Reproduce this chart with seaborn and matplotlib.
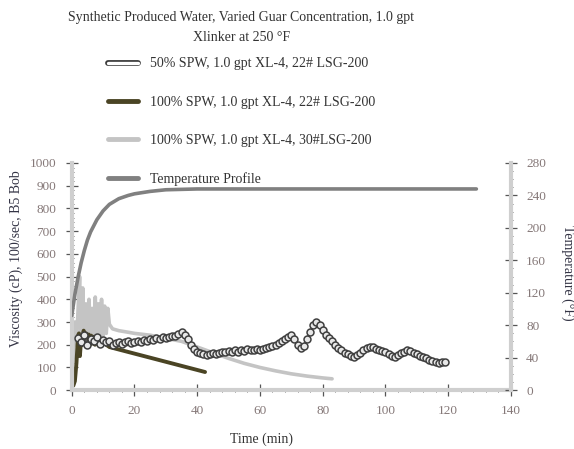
import matplotlib
matplotlib.use("Agg")
import matplotlib.pyplot as plt
import matplotlib.patheffects as pe
from matplotlib.lines import Line2D
from matplotlib.ticker import MultipleLocator
import seaborn as sns

############################################################
# DATA
############################################################

# 50% SPW, 1.0 gpt XL-4, 22# LSG-200 (one reading per minute from t=2)
spw50_time = list(range(2, 120))
spw50_visc = [
    230, 210, 245, 200, 225, 215, 235, 205, 220,
    210, 215, 200, 208, 212, 205, 210, 215, 208, 212,
    218, 210, 222, 215, 225, 220, 228, 225, 232, 228,
    235, 240, 238, 248, 255, 245, 225, 200, 180, 168,
    162, 158, 155, 160, 165, 158, 162, 170, 166, 172,
    168, 175, 170, 178, 174, 180, 178, 176, 180, 178,
    180, 185, 190, 195, 200, 208, 215, 225, 235, 242,
    225, 200, 185, 195, 225, 255, 285, 300, 285, 265,
    245, 230, 215, 200, 185, 175, 165, 158, 150, 148,
    155, 165, 175, 185, 190, 188, 182, 178, 172, 168,
    160, 152, 148, 155, 162, 168, 175, 172, 165, 158,
    150, 145, 140, 135, 128, 122, 118, 122, 125,
]

# 100% SPW, 1.0 gpt XL-4, 22# LSG-200
spw100_22_time = [0.5, 1.0, 1.5, 2.0, 2.3, 2.6, 3.0, 3.4, 3.8, 4.2, 4.6, 5.0,
                  5.4, 5.8, 6.2, 6.6, 7.0, 7.4, 7.8, 8.2, 8.6, 9.0, 9.5, 10,
                  10.5, 11, 12, 15, 20, 25, 30, 35, 40, 42.5]
spw100_22_visc = [20, 40, 120, 240, 250, 150, 230, 200, 262, 210, 250, 205,
                  245, 200, 240, 205, 235, 200, 230, 205, 225, 200, 225, 205,
                  215, 200, 190, 179, 161, 143, 125, 107, 89, 80]

# 100% SPW, 1.0 gpt XL-4, 30# LSG-200
spw100_30_time = [0, 0.5, 1, 1.5, 2, 2.5, 3, 3.5, 4, 4.5, 5, 5.5, 6, 6.5, 7,
                  7.5, 8, 8.5, 9, 9.5, 10, 10.5, 11, 11.5, 12, 13, 15, 18, 20,
                  25, 30, 35, 40, 45, 50, 55, 60, 65, 70, 75, 80, 83]
spw100_30_visc = [60, 150, 300, 200, 350, 500, 250, 450, 220, 380, 210, 400,
                  230, 360, 220, 410, 230, 380, 240, 400, 240, 370, 250, 360,
                  290, 270, 262, 255, 250, 242, 228, 215, 190, 165, 140, 118,
                  100, 85, 72, 62, 54, 50]

# Temperature profile (deg F)
temp_time = [0, 1, 2, 3, 4, 5, 6, 8, 10, 12, 15, 18, 20, 25, 30, 40, 60,
             80, 100, 120, 129]
temp_degf = [92, 118, 139, 157, 172, 185, 195, 210, 221, 229, 236, 240,
             242, 245, 247, 248, 248, 248, 248, 248, 248]

legend_labels = [
    "50% SPW, 1.0 gpt XL-4, 22# LSG-200",
    "100% SPW, 1.0 gpt XL-4, 22# LSG-200",
    "100% SPW, 1.0 gpt XL-4, 30#LSG-200",
    "Temperature Profile",
]

############################################################
# STYLE
############################################################

sns.set_style("white")
plt.rcParams["font.family"] = ["Liberation Serif", "DejaVu Serif"]

olive = "#4a4424"
light = "#c4c4c4"
tgray = "#808080"
spine_col = "#cfcfcf"
tick_col = "#857878"
edge = "#3a3a3a"

fig = plt.figure(figsize=(5.74, 4.49), dpi=100)
ax = fig.add_axes([0.125, 0.131, 0.765, 0.506])
ax2 = ax.twinx()

############################################################
# PLOT
############################################################

sns.lineplot(x=spw100_30_time, y=spw100_30_visc, ax=ax, color=light,
             lw=2.6, estimator=None, sort=False)
sns.lineplot(x=spw100_22_time, y=spw100_22_visc, ax=ax, color=olive,
             lw=2.8, estimator=None, sort=False)
sns.lineplot(x=spw50_time, y=spw50_visc, ax=ax, color="#555555", lw=1.6,
             marker="o", markersize=5.0, markerfacecolor="#e8e8e8",
             markeredgecolor="#3f3f3f", markeredgewidth=1.1,
             estimator=None, sort=False)

sns.lineplot(x=temp_time, y=temp_degf, ax=ax2, color=tgray, lw=2.6,
             estimator=None, sort=False)

############################################################
# AXES
############################################################

ax.set_xlim(0, 140)
ax.set_ylim(0, 1000)
ax2.set_ylim(0, 280)

ax.xaxis.set_major_locator(MultipleLocator(20))
ax.xaxis.set_minor_locator(MultipleLocator(4))
ax.yaxis.set_major_locator(MultipleLocator(100))
ax.yaxis.set_minor_locator(MultipleLocator(20))
ax2.yaxis.set_major_locator(MultipleLocator(40))
ax2.yaxis.set_minor_locator(MultipleLocator(10))

for a in (ax, ax2):
    for s in a.spines.values():
        s.set_visible(False)
    a.tick_params(which="major", direction="inout", length=8, width=0.9,
                  color="#555555", labelsize=9.5, labelcolor=tick_col, pad=7)
    a.tick_params(which="minor", direction="inout", length=3.5, width=0.7,
                  color="#666666")

ax.spines["left"].set_visible(True)
ax.spines["bottom"].set_visible(True)
ax2.spines["right"].set_visible(True)
for s in (ax.spines["left"], ax.spines["bottom"], ax2.spines["right"]):
    s.set_color(spine_col)
    s.set_linewidth(3)

ax.tick_params(axis="y", which="both", left=True, right=False)
ax.tick_params(axis="x", which="both", bottom=True, top=False)
ax2.tick_params(axis="y", which="both", right=True, left=False)

ax.set_xlabel("Time (min)", fontsize=10, color="#333333")
ax.xaxis.set_label_coords(0.433, -0.185)
ax.set_ylabel("Viscosity (cP), 100/sec, B5 Bob", fontsize=10, color="#333344")
ax.yaxis.set_label_coords(-0.112, 0.58)
ax2.set_ylabel("Temperature (\u00b0F)", fontsize=10, color="#333344",
               rotation=270, va="center")
ax2.yaxis.set_label_coords(1.13, 0.515)

############################################################
# TITLE + LEGEND
############################################################

fig.text(0.42, 0.975, "Synthetic Produced Water, Varied Guar Concentration, 1.0 gpt\nXlinker at 250 \u00b0F",
         ha="center", va="top", fontsize=10, color="#333333", linespacing=1.7)

handles = [
    Line2D([], [], color="white", lw=2.4,
           path_effects=[pe.Stroke(linewidth=4.2, foreground=edge), pe.Normal()]),
    Line2D([], [], color=olive, lw=3.5),
    Line2D([], [], color=light, lw=3.5),
    Line2D([], [], color=tgray, lw=3.5),
]
fig.legend(handles, legend_labels, loc="upper left",
           bbox_to_anchor=(0.188, 0.872), frameon=False, fontsize=10,
           handlelength=2.2, handletextpad=0.85, labelspacing=1.82,
           borderpad=0, borderaxespad=0, labelcolor="#333333")

fig.savefig("out.png", dpi=100)
